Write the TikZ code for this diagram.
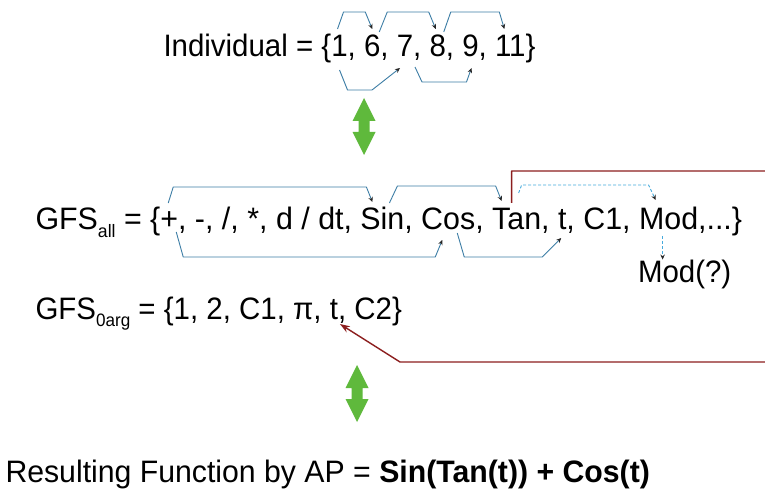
\documentclass[tikz,border=0pt]{standalone}
\usepackage{fontspec}
\setmainfont{Liberation Sans}[FakeStretch=0.95]
\newfontfamily\fontwide{Liberation Sans}[FakeStretch=0.98]
\newfontfamily\fontres{Liberation Sans}[FakeStretch=0.975]
\usetikzlibrary{calc,arrows.meta}
\definecolor{bl}{RGB}{60,125,165}
\definecolor{lbl}{RGB}{70,170,220}
\definecolor{dred}{RGB}{140,30,30}
\definecolor{gr}{RGB}{95,185,60}
\newcommand\fsz{\fontsize{31}{34}\selectfont}
\newcommand\subsz{\fontsize{18}{20}\selectfont}
\newcommand\sep{,\ \null}
\newcommand\greenarrow[2]{%
  \fill[gr] (#1,-#2) -- (#1+11.5,-#2-23) -- (#1+5.5,-#2-23) -- (#1+5.5,-#2-34)
    -- (#1+11.5,-#2-34) -- (#1,-#2-57) -- (#1-11.5,-#2-34) -- (#1-5.5,-#2-34)
    -- (#1-5.5,-#2-23) -- (#1-11.5,-#2-23) -- cycle;}
\tikzset{
  txt/.style={inner sep=0pt, outer sep=0pt, anchor=base west, font=\fsz},
  wtxt/.style={txt, font=\fontwide\fsz},
  tip/.style={-{Stealth[length=5pt,width=4.5pt,black!85]}},
  blu/.style={draw=bl, line width=0.9pt, tip, line join=round},
  dsh/.style={draw=lbl, line width=0.9pt, dash pattern=on 3pt off 2pt, tip},
  redl/.style={draw=dred, line width=1.4pt, line join=round, -{Stealth[length=10pt,width=7pt,dred]}}
}
\begin{document}
\begin{tikzpicture}[x=1pt,y=1pt]
\useasboundingbox (0,0) rectangle (765,-494);
\clip (0,0) rectangle (765,-494);
\fill[white] (0,0) rectangle (765,-494);

% Line 1
\node[txt] (indA) at (163.5,-57) {Individual = \{};
\node[txt] (n1) at (indA.base east) {1};
\node[txt] (k1) at (n1.base east) {\sep};
\node[txt] (n6) at (k1.base east) {6};
\node[txt] (k2) at (n6.base east) {\sep};
\node[txt] (n7) at (k2.base east) {7};
\node[txt] (k3) at (n7.base east) {\sep};
\node[txt] (n8) at (k3.base east) {8};
\node[txt] (k4) at (n8.base east) {\sep};
\node[txt] (n9) at (k4.base east) {9};
\node[txt] (k5) at (n9.base east) {\sep};
\node[txt] (n11) at (k5.base east) {11};
\node[txt] (indB) at (n11.base east) {\}};

% Line 2
\node[wtxt] (gA) at (35.5,-230) {GFS\raisebox{-7pt}{\subsz all} = \{};
\node[wtxt] (plus) at (gA.base east) {+};
\node[wtxt] (gB) at (plus.base east) {, -, /, *, d / dt\sep};
\node[wtxt] (sin) at (gB.base east) {Sin};
\node[wtxt] (gC) at (sin.base east) {\sep};
\node[wtxt] (cos) at (gC.base east) {Cos};
\node[wtxt] (gD) at (cos.base east) {\sep};
\node[wtxt] (tan) at (gD.base east) {Tan};
\node[wtxt] (gE) at (tan.base east) {\sep};
\node[wtxt] (tt) at (gE.base east) {t};
\node[wtxt] (gF) at (tt.base east) {, C1\sep};
\node[wtxt] (mod) at (gF.base east) {Mod};
\node[wtxt] (gG) at (mod.base east) {,...\}};

\node[txt] (modq) at (638,-282) {Mod(?)};

% Line 3
\node[txt] (zA) at (35.5,-319) {GFS\raisebox{-7pt}{\subsz 0arg} = \{1, 2, C1, π\sep};
\node[txt] (t0) at (zA.base east) {t};
\node[txt] (zB) at (t0.base east) {, C2\}};

% Result
\node[txt, font=\fontres\fsz] (res) at (5.5,-482) {Resulting Function by AP = \textbf{Sin(Tan(t)) + Cos(t)}};

% Individual arrows
\draw[blu] ($(n1.base)+(-2,28)$) -- ($(n1.base)+(4,45)$) -- ($(n6.base)+(-7,45)$) -- ($(n6.base)+(0,28)$);
\draw[blu] ($(n6.base)+(7,25)$) -- ($(n6.base)+(15,45)$) -- ($(n8.base)+(-9,45)$) -- ($(n8.base)+(-2,28)$);
\draw[blu] ($(n8.base)+(6,25)$) -- ($(n8.base)+(13,45)$) -- ($(n11.base)+(-11,45)$) -- ($(n11.base)+(-6,28)$);
\draw[blu] ($(n1.base)+(0,-13)$) -- ($(n1.base)+(8,-33)$) -- ($(n7.base)+(-33,-33)$) -- ($(n7.base)+(-5,-11)$);
\draw[blu] ($(n7.base)+(10,-10)$) -- ($(n7.base)+(17,-25)$) -- ($(n9.base)+(-4,-25)$) -- ($(n9.base)+(1,-11)$);

% GFS_all arrows
\draw[blu] ($(plus.base)+(-1,27)$) -- ($(plus.base)+(4,43)$) -- ($(sin.base)+(-16,43)$) -- ($(sin.base)+(-10,28)$);
\draw[blu] ($(sin.base)+(7,27)$) -- ($(sin.base)+(15,44)$) -- ($(tan.base)+(-21,44)$) -- ($(tan.base)+(-15,29)$);
\draw[dsh] ($(tan.base)+(2,37)$) -- ($(tan.base)+(5,45)$) -- ($(mod.base)+(-20,45)$) -- ($(mod.base)+(-13,30)$);
\draw[blu] ($(plus.base)+(7,-2)$) -- ($(plus.base)+(14,-27)$) -- ($(cos.base)+(-13,-27)$) -- ($(cos.base)+(-6,-10)$);
\draw[blu] ($(cos.base)+(9,-3)$) -- ($(cos.base)+(16,-27)$) -- ($(tt.base)+(-20,-27)$) -- ($(tt.base)+(-1,-8)$);
\draw[dsh] ($(mod.base)+(-6,-6)$) coordinate (mq) -- (mq |- modq.north);

% red connector Tan -> t
\coordinate (redTR) at (790,-171);
\coordinate (redBR) at (790,-362);
\coordinate (redBL) at (400,-362);
\draw[redl] ($(tan.base)+(-5,27)$) |- (redTR) -- (redBR) -- (redBL) -- ($(t0.base)+(6,-5)$);

% green double arrows
\greenarrow{364}{98}
\greenarrow{357}{365}
\end{tikzpicture}
\end{document}
